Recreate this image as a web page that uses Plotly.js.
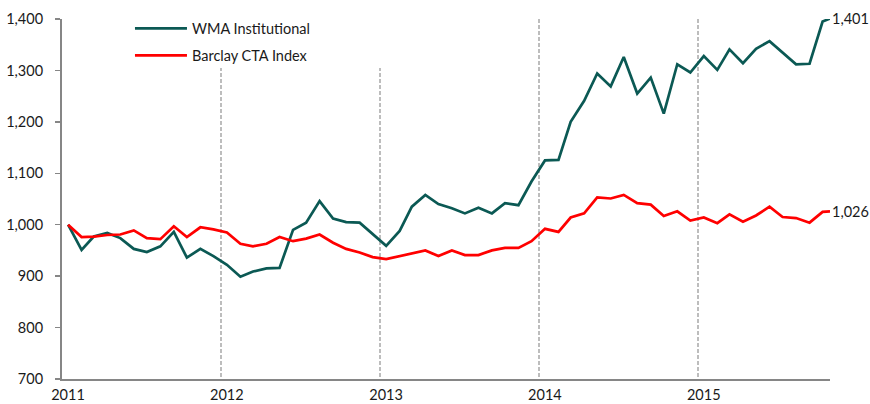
<!DOCTYPE html>
<html>
<head>
<meta charset="utf-8">
<script src="https://cdn.plot.ly/plotly-3.0.1.min.js"></script>
<style>
  html, body { margin: 0; padding: 0; background: #ffffff; }
  #chart { width: 870px; height: 404px; }
</style>
</head>
<body>
<div id="chart"></div>
<script>
// Month labels: Jan 2011 .. Oct 2015 (mid-month), plus final reading at month end
const startYear = 2011;
const monthCount = 58;
const finalDate = "2015-11-01";
const dates = [];
for (let i = 0; i < monthCount; i++) {
  const y = startYear + Math.floor(i / 12);
  const m = (i % 12) + 1;
  dates.push(y + "-" + String(m).padStart(2, "0") + "-15");
}
dates.push(finalDate);

const seriesNames = ["WMA Institutional", "Barclay CTA Index"];

const wmaValues = [
  1000, 951, 977, 984, 974, 953, 947, 958, 986, 936, 953, 939,
  922, 899, 909, 915, 916, 990, 1004, 1046, 1012, 1005, 1004, 981,
  959, 988, 1035, 1058, 1040, 1032, 1022, 1033, 1022, 1042, 1038, 1084,
  1125, 1126, 1200, 1241, 1294, 1269, 1326, 1255, 1286, 1216, 1312, 1296,
  1328, 1301, 1341, 1314, 1342, 1357, 1334, 1312, 1313, 1395,
  1401
];

const ctaValues = [
  1000, 976, 977, 980, 981, 989, 974, 972, 997, 976, 995, 991,
  985, 963, 958, 963, 976, 968, 973, 981, 965, 953, 946, 937,
  933, 939, 945, 950, 939, 950, 941, 941, 950, 955, 955, 968,
  992, 986, 1014, 1022, 1053, 1051, 1058, 1042, 1039, 1017, 1026, 1008,
  1014, 1003, 1020, 1006, 1018, 1035, 1015, 1013, 1004, 1025,
  1026
];

const yearTickVals = ["2011-01-01", "2012-01-01", "2013-01-01", "2014-01-01", "2015-01-01"];
const yearTickText = ["2011", "2012", "2013", "2014", "2015"];
const yRange = [700, 1400];

const colors = ["#0b5954", "#ff0000"];
const FONT = "Lato, 'Open Sans', sans-serif";
const FS = 14.5;

const traces = [
  {
    x: dates, y: wmaValues, name: seriesNames[0], type: "scatter", mode: "lines",
    line: { color: colors[0], width: 2.7 }, legendgroup: "a"
  },
  {
    x: dates, y: ctaValues, name: seriesNames[1], type: "scatter", mode: "lines",
    line: { color: colors[1], width: 2.7 }, legendgroup: "b"
  }
];

const fmt = v => v.toLocaleString("en-US");
// End-of-series value labels (placed on the y axis scale via paper fraction so
// a value at the very top edge of the range is not hidden)
const endLabels = [wmaValues, ctaValues].map(series => {
  const v = series[series.length - 1];
  return {
    x: dates[dates.length - 1],
    y: (v - yRange[0]) / (yRange[1] - yRange[0]),
    text: fmt(v),
    xref: "x", yref: "paper",
    xanchor: "left", yanchor: "middle",
    xshift: 0, showarrow: false,
    font: { family: FONT, size: FS, color: "#1a1a1a" }
  };
});

const layout = {
  width: 870, height: 404,
  margin: { l: 62, r: 40, t: 19, b: 25 },
  paper_bgcolor: "#ffffff",
  plot_bgcolor: "#ffffff",
  font: { family: FONT, size: FS, color: "#1a1a1a" },
  showlegend: true,
  legend: {
    x: 0.0885, xanchor: "left",
    y: 1.018, yanchor: "top",
    bgcolor: "rgba(0,0,0,0)",
    borderwidth: 0,
    itemwidth: 52,
    traceorder: "grouped",
    tracegroupgap: 5,
    font: { family: FONT, size: FS, color: "#1a1a1a" }
  },
  shapes: [
    {
      type: "rect", xref: "paper", yref: "paper", layer: "above",
      x0: 0.08, x1: 0.45, y0: 0.864, y1: 1.05,
      fillcolor: "#ffffff", line: { width: 0 }
    }
  ],
  xaxis: {
    type: "date",
    range: ["2011-01-01", finalDate],
    tickmode: "array",
    tickvals: yearTickVals,
    ticktext: yearTickText,
    ticks: "",
    ticklabelshift: 6,
    ticklabelstandoff: 2,
    showgrid: true,
    gridcolor: "#bdbdbd",
    gridwidth: 1.6,
    griddash: "4px,2px",
    showline: true,
    linecolor: "#868686",
    linewidth: 2,
    zeroline: false,
    fixedrange: true,
    tickfont: { family: FONT, size: FS, color: "#1a1a1a" }
  },
  yaxis: {
    range: yRange,
    dtick: 100,
    tick0: 700,
    tickformat: ",",
    ticks: "outside",
    ticklen: 5,
    tickwidth: 1.5,
    tickcolor: "#868686",
    ticklabelstandoff: 9,
    showgrid: false,
    showline: true,
    linecolor: "#868686",
    linewidth: 2,
    zeroline: false,
    fixedrange: true,
    tickfont: { family: FONT, size: FS, color: "#1a1a1a" }
  },
  annotations: endLabels
};

Plotly.newPlot("chart", traces, layout, { displayModeBar: false, staticPlot: true });
</script>
</body>
</html>
